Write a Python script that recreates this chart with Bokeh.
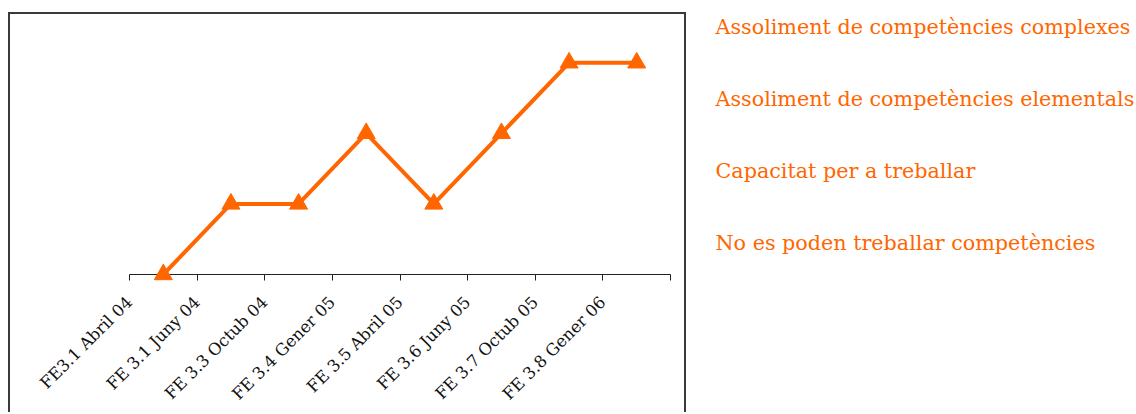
import math
from bokeh.plotting import figure
from bokeh.models import FixedTicker, Range1d
from bokeh.layouts import row
from bokeh.core.properties import value
from bokeh.embed import file_html
from bokeh.resources import INLINE

categories = ["FE3.1 Abril 04", "FE 3.1 Juny 04", "FE 3.3 Octub 04", "FE 3.4 Gener 05",
              "FE 3.5 Abril 05", "FE 3.6 Juny 05", "FE 3.7 Octub 05", "FE 3.8 Gener 06"]
values = [0, 1, 1, 2, 1, 2, 3, 3]
levels = ["No es poden treballar competències",
          "Capacitat per a treballar",
          "Assoliment de competències elementals",
          "Assoliment de competències complexes"]

ORANGE = "#FF6600"
SERIF = "DejaVu Serif"

xs = [i + 0.5 for i in range(len(categories))]

p = figure(width=678, height=400, x_range=Range1d(0, len(categories)), y_range=Range1d(0, 3.5),
           output_backend="svg", toolbar_location=None,
           min_border_left=119, min_border_right=18, min_border_top=13, min_border_bottom=140,
           margin=(12, 0, 0, 8),
           styles={"border-top": "2px solid #3a3a3a", "border-left": "2px solid #3a3a3a",
                   "border-right": "2px solid #3a3a3a"})
p.line(xs, values, line_color=ORANGE, line_width=4)
p.scatter(xs, values, marker="triangle", size=18, color=ORANGE, level="overlay")

p.grid.visible = False
p.outline_line_color = None
p.yaxis.visible = False
ax = p.xaxis[0]
ax.ticker = FixedTicker(ticks=list(range(len(categories) + 1)))
overrides = {i: c for i, c in enumerate(categories)}
overrides[len(categories)] = ""
ax.major_label_overrides = overrides
ax.major_label_orientation = math.pi / 4
ax.major_label_standoff = 19
ax.major_label_text_font = SERIF
ax.major_label_text_font_size = "16.5px"
ax.major_label_text_color = "#111111"
ax.major_tick_in = 0
ax.major_tick_out = 6
ax.minor_tick_line_color = None
ax.axis_line_color = "#222222"
ax.major_tick_line_color = "#222222"

p2 = figure(frame_width=450, frame_height=402, x_range=Range1d(0, 450), y_range=Range1d(-2.389, 3.194),
            output_backend="svg", toolbar_location=None, min_border=0,
            x_axis_location=None, y_axis_location=None)
p2.grid.visible = False
p2.outline_line_color = None
p2.text(x=29, y=list(range(len(levels))), text=levels, text_baseline="middle",
        text_font=value(SERIF), text_font_size="20.7px", text_color=ORANGE)

layout = row(p, p2)
open("out.html", "w").write(file_html(layout, INLINE))
